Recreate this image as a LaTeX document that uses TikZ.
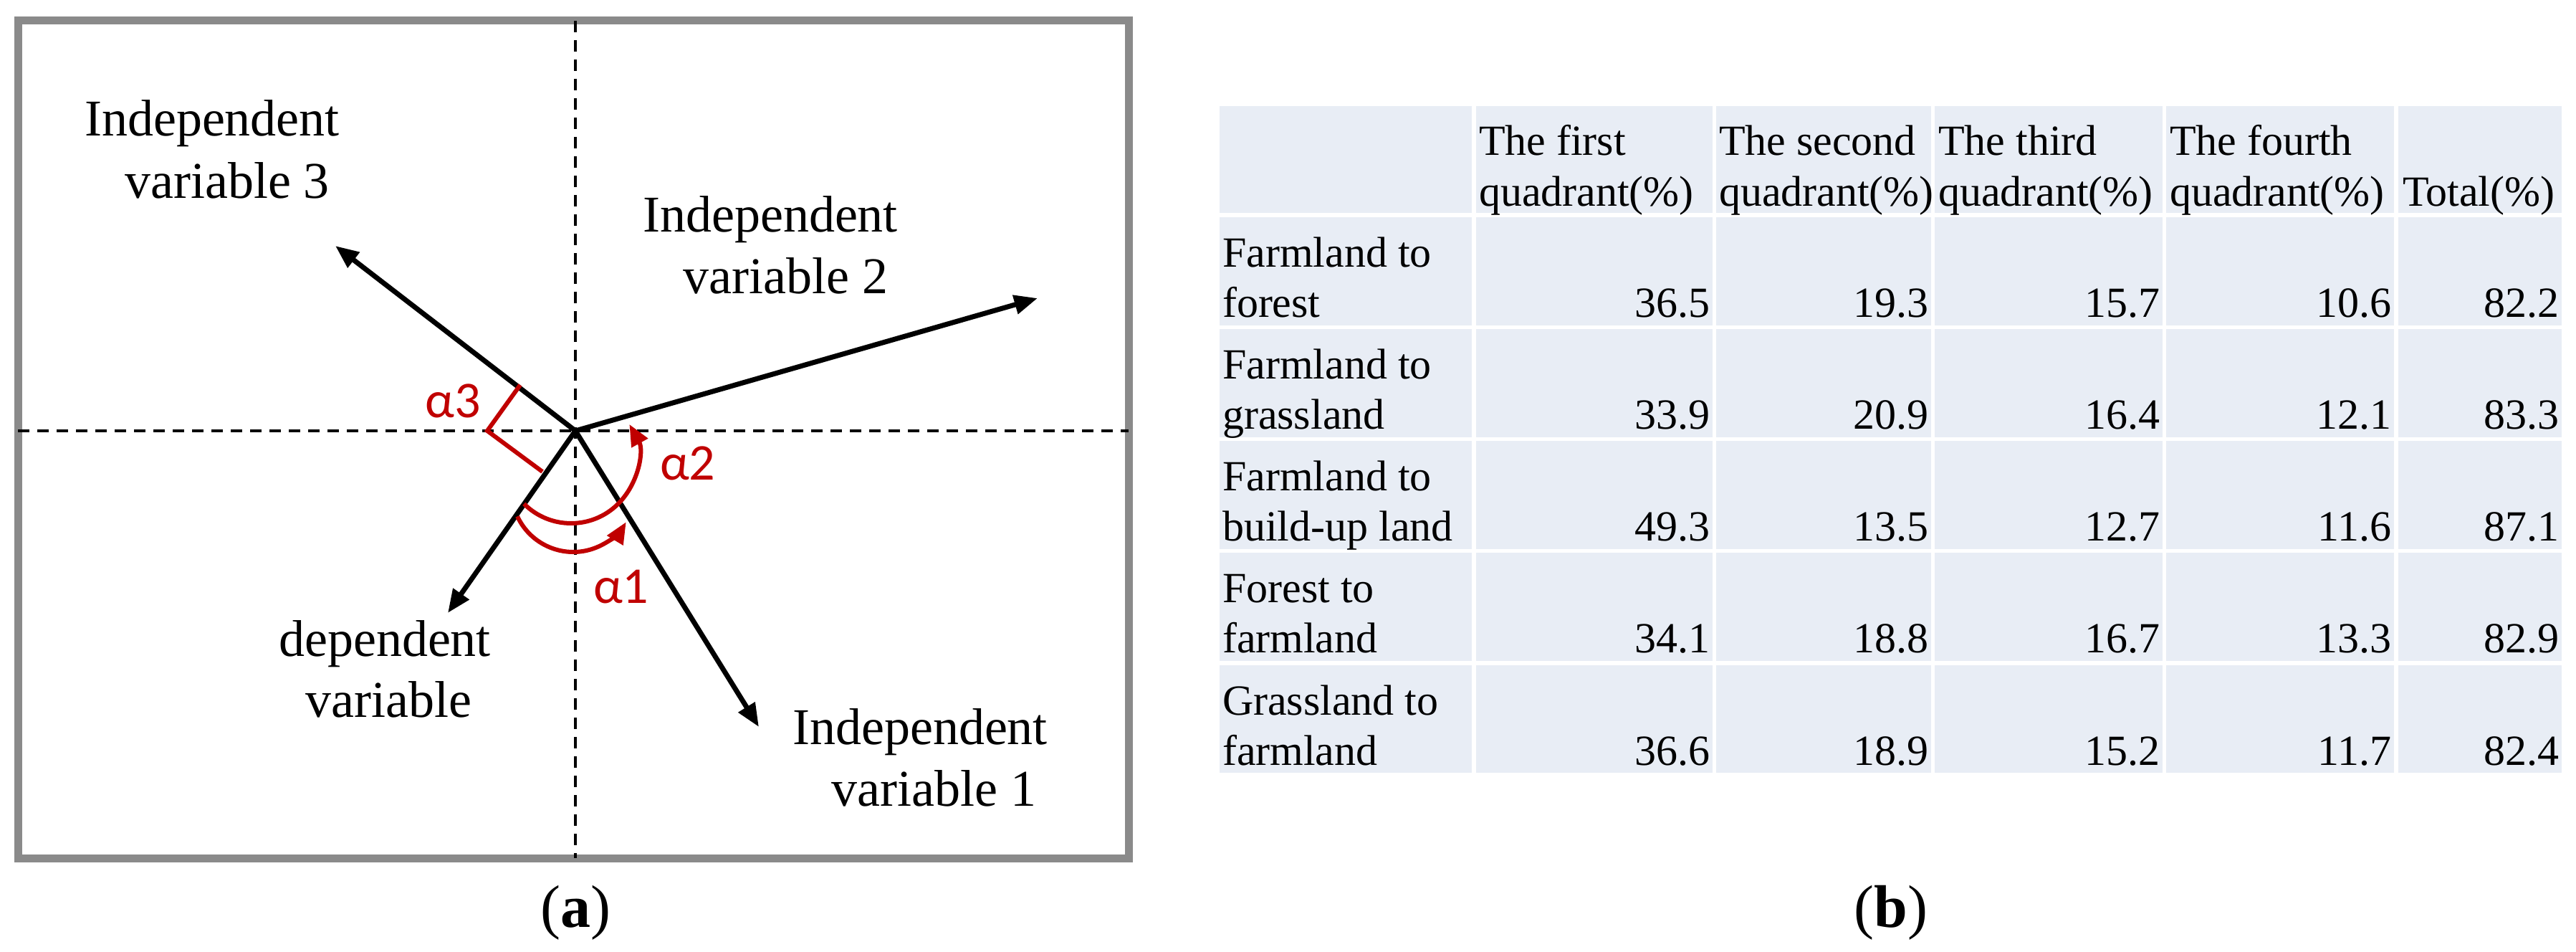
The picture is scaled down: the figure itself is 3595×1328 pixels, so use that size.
\documentclass[tikz,border=0pt]{standalone}
\usepackage{fontspec}
\setmainfont{Liberation Serif}
\newfontfamily\redfont{Carlito}
\usetikzlibrary{arrows.meta}
\definecolor{framegray}{RGB}{138,138,138}
\definecolor{darkred}{RGB}{192,0,0}
\definecolor{cellblue}{RGB}{232,237,245}
\tikzset{
 lbl/.style={font=\fontsize{14.4}{17.4}\selectfont, inner sep=0pt, anchor=base},
 redlbl/.style={font=\redfont\fontsize{14.4}{17}\selectfont, text=darkred, inner sep=0pt},
 vec/.style={line width=1.4pt, -{Triangle[length=6.5pt,width=5.2pt]}},
 axisline/.style={line width=0.8pt, dash pattern=on 3.2pt off 2.2pt},
 redarc/.style={draw=darkred, line width=1.2pt, -{Triangle[length=6pt,width=5pt]}},
 cell/.style={fill=cellblue},
 tl/.style={font=\fontsize{12}{14}\selectfont, inner sep=0pt, anchor=base west},
 tn/.style={font=\fontsize{12}{14}\selectfont, inner sep=0pt, anchor=base east},
 capt/.style={font=\fontsize{16.8}{20}\selectfont, inner sep=0pt, anchor=base},
}
\begin{document}
\begin{tikzpicture}[x=0.2pt,y=-0.2pt]
\useasboundingbox (0,0) rectangle (3595,1328);
% ---------- panel (a) ----------
\draw[framegray, line width=2.2pt] (25,29) rectangle (1575,1197);
\draw[axisline] (803,29) -- (803,1197);
\draw[axisline] (25,601) -- (1575,601);
\coordinate (O) at (803,601);
\coordinate (t1) at (1059,1014);
\coordinate (t2) at (1448,416);
\coordinate (t3) at (468,343);
\coordinate (td) at (625,855);
\draw[vec] (O) -- (t1);
\draw[vec] (O) -- (t2);
\draw[vec] (O) -- (t3);
\draw[vec] (O) -- (td);
% red angle marks
\draw[draw=darkred, line width=1.2pt] (726,537) -- (680,601) -- (757,658);
\draw[redarc] (800,684) ++(155:86) arc[start angle=155, end angle=31, radius=86];
\draw[redarc] (797,637) ++(135:93) arc[start angle=135, end angle=-29, radius=93];
\node[redlbl, anchor=base east] (a3) at (672,583) {α3};
\node[redlbl, anchor=base west] (a2) at (920,670) {α2};
\node[redlbl, anchor=base west] (a1) at (827,842) {α1};
% labels
\node[lbl] (iv3a) at (296,190) {Independent};
\node[lbl] (iv3b) at (317,277) {variable 3};
\node[lbl] (iv2a) at (1075,324) {Independent};
\node[lbl] (iv2b) at (1096,410) {variable 2};
\node[lbl] (dva) at (537,916) {dependent};
\node[lbl] (dvb) at (542,1001) {variable};
\node[lbl] (iv1a) at (1284,1039) {Independent};
\node[lbl] (iv1b) at (1303,1125) {variable 1};
\node[capt] (capa) at (803,1293) {(\textbf{a})};
% ---------- panel (b) ----------
\foreach \xa/\xb in {1702/2054,2060/2390,2395/2695,2700/3018,3023/3341,3347/3575}
  \foreach \ya/\yb in {148/297,303/454,459/610,615/766,771/922,928/1078}
    \fill[cell] (\xa,\ya) rectangle (\xb,\yb);
% header
\node[tl] (h1a) at (2063,217) {The first};
\node[tl] (h1b) at (2063,288) {quadrant(\%)};
\node[tl] (h2a) at (2398,217) {The second};
\node[tl] (h2b) at (2398,288) {quadrant(\%)};
\node[tl] (h3a) at (2704,217) {The third};
\node[tl] (h3b) at (2704,288) {quadrant(\%)};
\node[tl] (h4a) at (3027,217) {The fourth};
\node[tl] (h4b) at (3027,288) {quadrant(\%)};
\node[tl] (h5b) at (3352,288) {Total(\%)};
% row labels
\node[tl] (r1a) at (1705,373) {Farmland to};
\node[tl] (r1b) at (1705,443) {forest};
\node[tl] (r2a) at (1705,529) {Farmland to};
\node[tl] (r2b) at (1705,599) {grassland};
\node[tl] (r3a) at (1705,685) {Farmland to};
\node[tl] (r3b) at (1705,755) {build-up land};
\node[tl] (r4a) at (1705,841) {Forest to};
\node[tl] (r4b) at (1705,911) {farmland};
\node[tl] (r5a) at (1705,998) {Grassland to};
\node[tl] (r5b) at (1705,1068) {farmland};
% values
\foreach \r/\yb/\va/\vb/\vc/\vd/\ve in {1/443/36.5/19.3/15.7/10.6/82.2,
                                        2/599/33.9/20.9/16.4/12.1/83.3,
                                        3/755/49.3/13.5/12.7/11.6/87.1,
                                        4/911/34.1/18.8/16.7/13.3/82.9,
                                        5/1068/36.6/18.9/15.2/11.7/82.4}{
  \node[tn] (v\r-1) at (2387,\yb) {\va};
  \node[tn] (v\r-2) at (2692,\yb) {\vb};
  \node[tn] (v\r-3) at (3015,\yb) {\vc};
  \node[tn] (v\r-4) at (3338,\yb) {\vd};
  \node[tn] (v\r-5) at (3572,\yb) {\ve};
}
\node[capt] (capb) at (2639,1293) {(\textbf{b})};
\end{tikzpicture}
\end{document}
